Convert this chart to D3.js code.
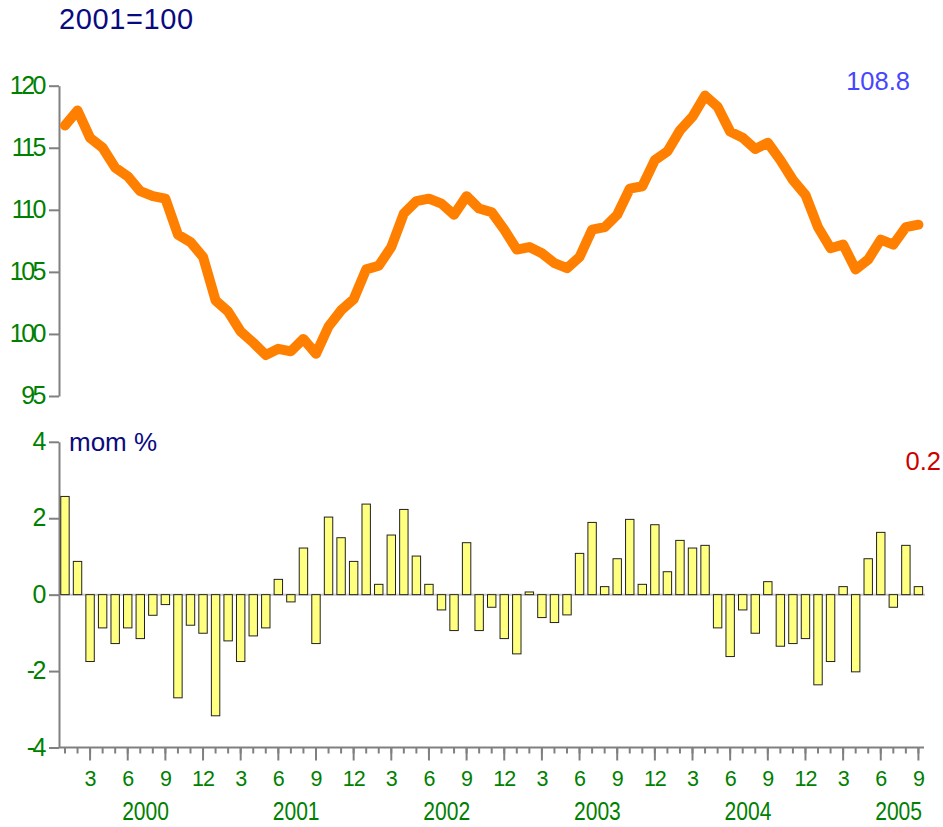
<!DOCTYPE html>
<html lang="en">
<head>
    <meta charset="UTF-8">
    <title>2001=100 index and mom %</title>
    <script src="https://d3js.org/d3.v7.min.js"></script>
    <style>
        body { margin: 0; background: #fff; }
        svg text { font-family: "Liberation Sans", Arial, sans-serif; }
        .axis path, .axis line { stroke: #808080; stroke-width: 2; fill: none; }
        .ylab { fill: #008000; font-size: 25px; letter-spacing: -2.5px; }
        .mlab { fill: #008000; font-size: 21.5px; letter-spacing: -1px; }
        .yrlab { fill: #008000; font-size: 26px; }
        .bar { fill: #ffff80; stroke: #222; stroke-width: 1; }
    </style>
</head>
<body>
<svg id="chart" width="943" height="827"></svg>
<script>
// monthly data, Jan 2000 .. Sep 2005
const years = ["2000", "2001", "2002", "2003", "2004", "2005"];
const monthTickLabels = ["3", "6", "9", "12"];
const topTicks = [95, 100, 105, 110, 115, 120];
const bottomTicks = [-4, -2, 0, 2, 4];

const indexValues = [
    116.8, 118.0, 115.8, 115.0, 113.4, 112.7, 111.5, 111.1, 110.9, 108.0, 107.4, 106.2,
    102.7, 101.8, 100.2, 99.3, 98.3, 98.8, 98.6, 99.6, 98.4, 100.6, 101.9, 102.8,
    105.2, 105.5, 107.0, 109.7, 110.7, 110.9, 110.5, 109.6, 111.1, 110.1, 109.8, 108.4,
    106.8, 107.0, 106.5, 105.7, 105.3, 106.2, 108.4, 108.6, 109.6, 111.7, 111.9, 114.0,
    114.7, 116.4, 117.5, 119.2, 118.3, 116.3, 115.8, 114.9, 115.4, 114.0, 112.4, 111.2,
    108.6, 106.9, 107.2, 105.2, 106.0, 107.6, 107.2, 108.6, 108.8
];
const momValues = [
    2.57, 0.87, -1.75, -0.87, -1.28, -0.87, -1.15, -0.54, -0.26, -2.70, -0.80, -1.01,
    -3.17, -1.21, -1.75, -1.08, -0.87, 0.40, -0.19, 1.22, -1.28, 2.03, 1.49, 0.87,
    2.37, 0.27, 1.56, 2.23, 1.01, 0.27, -0.40, -0.94, 1.36, -0.94, -0.33, -1.15,
    -1.55, 0.07, -0.60, -0.73, -0.53, 1.08, 1.89, 0.21, 0.94, 1.97, 0.27, 1.83,
    0.60, 1.42, 1.22, 1.29, -0.87, -1.62, -0.40, -1.01, 0.34, -1.35, -1.28, -1.15,
    -2.36, -1.75, 0.21, -2.02, 0.94, 1.63, -0.33, 1.29, 0.21
];

const svg = d3.select("#chart");
const idx = d3.range(indexValues.length);

const x = d3.scaleBand().domain(idx).range([58.7, 924.7]).paddingInner(0.25).paddingOuter(0.125);
const xc = i => x(i) + x.bandwidth() / 2;

const yTop = d3.scaleLinear().domain([95, 120]).range([396, 85.7]);
const yBot = d3.scaleLinear().domain([-4, 4]).range([747.5, 441.8]);

// ---- top panel ----
const topAxis = svg.append("g").attr("class", "axis").attr("transform", "translate(59,0)")
    .call(d3.axisLeft(yTop).tickValues(topTicks).tickSize(10).tickSizeOuter(0).tickPadding(5)
        .tickFormat(d => String(d)));
topAxis.selectAll("text").attr("class", "ylab").attr("dy", "0.3em");

svg.append("path")
    .datum(idx)
    .attr("fill", "none")
    .attr("stroke", "#ff8000")
    .attr("stroke-width", 10)
    .attr("stroke-linejoin", "round")
    .attr("stroke-linecap", "round")
    .attr("d", d3.line().x(i => xc(i)).y(i => yTop(indexValues[i])));

svg.append("text").attr("x", 59).attr("y", 29).attr("fill", "#0a0a80")
    .style("font-size", "29px").style("letter-spacing", "0.6px").text("2001=100");
svg.append("text").attr("x", 910).attr("y", 90).attr("text-anchor", "end").attr("fill", "#4646ff")
    .style("font-size", "25.5px").text(indexValues[indexValues.length - 1].toFixed(1));

// ---- bottom panel ----
const botAxis = svg.append("g").attr("class", "axis").attr("transform", "translate(59,0)")
    .call(d3.axisLeft(yBot).tickValues(bottomTicks).tickSize(10).tickSizeOuter(0).tickPadding(5)
        .tickFormat(d => String(d)));
botAxis.selectAll("text").attr("class", "ylab").attr("dy", "0.3em");

svg.append("line")
    .attr("x1", 60).attr("x2", 925)
    .attr("y1", yBot(0)).attr("y2", yBot(0))
    .attr("stroke", "#c4c4c4").attr("stroke-width", 2);

svg.selectAll("rect.bar").data(idx).enter().append("rect")
    .attr("class", "bar")
    .attr("x", i => x(i) + 0.5)
    .attr("width", x.bandwidth() - 1)
    .attr("y", i => yBot(Math.max(0, momValues[i])))
    .attr("height", i => Math.abs(yBot(momValues[i]) - yBot(0)));

svg.append("text").attr("x", 69).attr("y", 451).attr("fill", "#0a0a80")
    .style("font-size", "26px").text("mom %");
svg.append("text").attr("x", 941).attr("y", 470).attr("text-anchor", "end").attr("fill", "#cc0000")
    .style("font-size", "25.5px").text(momValues[momValues.length - 1].toFixed(1));

// x axis: short tick every month, long tick + label every quarter
const yAxisPos = yBot(-4);
svg.append("g").attr("class", "axis").attr("transform", `translate(0,${yAxisPos})`)
    .call(d3.axisBottom(x).tickSize(6).tickSizeOuter(0).tickFormat(""))
    .select(".domain").attr("d", `M59,0H924`);

const quarterIdx = idx.filter(i => (i % 12) % 3 === 2);
const qAxis = svg.append("g").attr("class", "axis").attr("transform", `translate(0,${yAxisPos})`)
    .call(d3.axisBottom(x).tickValues(quarterIdx).tickSize(13).tickPadding(10)
        .tickFormat(i => monthTickLabels[Math.floor((i % 12) / 3)]));
qAxis.select(".domain").remove();
qAxis.selectAll("text").attr("class", "mlab");

// year labels, horizontally squeezed like the original
svg.selectAll("text.yrlab").data(years).enter().append("text")
    .attr("class", "yrlab")
    .attr("text-anchor", "middle")
    .attr("transform", (d, k) => `translate(${xc(k * 12 + 6) + x.step() / 2 - 1},820) scale(0.81,1)`)
    .text(d => d);
</script>
</body>
</html>
